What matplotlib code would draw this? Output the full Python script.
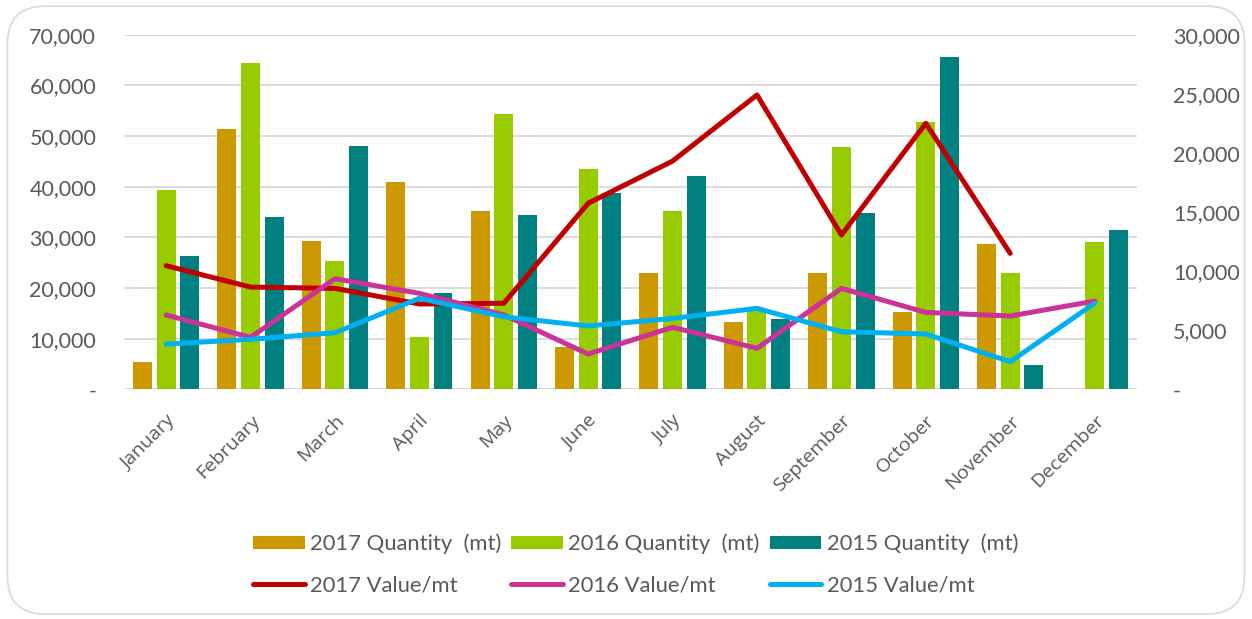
import matplotlib
matplotlib.use("Agg")
import matplotlib.pyplot as plt
import numpy as np
from matplotlib.patches import FancyBboxPatch

months = ["January", "February", "March", "April", "May", "June", "July",
          "August", "September", "October", "November", "December"]

qty_2017 = [5450, 51380, 29210, 40990, 35200, 8290, 22900, 13290, 22960, 15320, 28740, np.nan]
qty_2016 = [39280, 64410, 25330, 10260, 54280, 43490, 35140, 15500, 47770, 52770, 22900, 29020]
qty_2015 = [26310, 33950, 48030, 19010, 34470, 38690, 42040, 13820, 34800, 65660, 4800, 31450]

val_2017 = [10460, 8650, 8540, 7220, 7280, 15740, 19310, 24900, 13060, 22500, 11500, np.nan]
val_2016 = [6290, 4400, 9360, 8120, 6300, 2990, 5250, 3470, 8540, 6510, 6200, 7470]
val_2015 = [3830, 4230, 4790, 7700, 6140, 5360, 6000, 6850, 4870, 4680, 2340, 7280]

left_ticks = [0, 10000, 20000, 30000, 40000, 50000, 60000, 70000]
right_ticks = [0, 5000, 10000, 15000, 20000, 25000, 30000]

C_Q17, C_Q16, C_Q15 = "#CC9900", "#99CC00", "#008080"
C_V17, C_V16, C_V15 = "#C00000", "#CC3399", "#00B0F0"
TXT = "#595959"
GRID = "#D9D9D9"
NUM_FONT = ["Lato", "DejaVu Sans"]
MONTH_FONT = ["Open Sans", "DejaVu Sans"]
LEGEND_FONT = ["Lato", "DejaVu Sans"]

fig = plt.figure(figsize=(12.52, 6.19), dpi=100)
fig.patch.set_facecolor("white")

# rounded outer frame
frame = FancyBboxPatch((0.006, 0.008), 0.988, 0.982,
                       boxstyle="round,pad=0,rounding_size=0.03",
                       transform=fig.transFigure, facecolor="white",
                       edgecolor="#D9D9D9", linewidth=1.2, zorder=0,
                       mutation_aspect=1252 / 619)
fig.patches.append(frame)

ax = fig.add_axes([0.099, 0.371, 0.809, 0.573])
ax2 = ax.twinx()
ax.set_zorder(1)
ax2.set_zorder(2)
ax.patch.set_visible(False)
ax2.patch.set_visible(False)

x = np.arange(len(months))
step = 0.28
width = 0.225
ax.bar(x - step, qty_2017, width, color=C_Q17, label="2017 Quantity  (mt)", zorder=3)
ax.bar(x, qty_2016, width, color=C_Q16, label="2016 Quantity  (mt)", zorder=3)
ax.bar(x + step, qty_2015, width, color=C_Q15, label="2015 Quantity  (mt)", zorder=3)

lw = 3.6
style = dict(lw=lw, solid_capstyle="round", solid_joinstyle="round")
l17, = ax2.plot(x, val_2017, color=C_V17, label="2017 Value/mt", **style)
l16, = ax2.plot(x, val_2016, color=C_V16, label="2016 Value/mt", **style)
l15, = ax2.plot(x, val_2015, color=C_V15, label="2015 Value/mt", **style)

ax.set_xlim(-0.5, len(months) - 0.5)
ax.set_ylim(0, 70000)
ax2.set_ylim(0, 30000)

def fmt(v):
    return "-" if v == 0 else f"{v:,}"

ax.set_yticks(left_ticks)
ax.set_yticklabels([fmt(v) for v in left_ticks])
ax2.set_yticks(right_ticks)
ax2.set_yticklabels([fmt(v) for v in right_ticks])

for a in (ax, ax2):
    for s in a.spines.values():
        s.set_visible(False)
    a.tick_params(axis="y", length=0, labelsize=15.5, labelcolor=TXT)
    for t in a.get_yticklabels():
        t.set_family(NUM_FONT)
ax.tick_params(axis="y", pad=20)
ax2.tick_params(axis="y", pad=26)

ax.grid(axis="y", color=GRID, linewidth=1.3, zorder=0)
ax.set_axisbelow(True)
ax.axhline(0, color=GRID, linewidth=1.3, zorder=2)

ax.set_xticks(x)
ax.set_xticklabels(months, rotation=45, ha="right", rotation_mode="anchor")
ax.tick_params(axis="x", length=0, pad=16)
for t in ax.get_xticklabels():
    t.set_family(MONTH_FONT)
    t.set_fontsize(14)
    t.set_color(TXT)

handles_bar, labels_bar = ax.get_legend_handles_labels()
handles = [handles_bar[0], l17, handles_bar[1], l16, handles_bar[2], l15]
labels = [h.get_label() for h in handles]
leg = fig.legend(handles, labels, ncol=3, loc="center", bbox_to_anchor=(0.5076, 0.088),
                 frameon=False, prop={"family": LEGEND_FONT, "size": 15.8},
                 handlelength=2.35, handleheight=0.55, handletextpad=0.25,
                 columnspacing=0.45, labelspacing=0.95, labelcolor=TXT)

fig.savefig("out.png", dpi=100, facecolor="white")
